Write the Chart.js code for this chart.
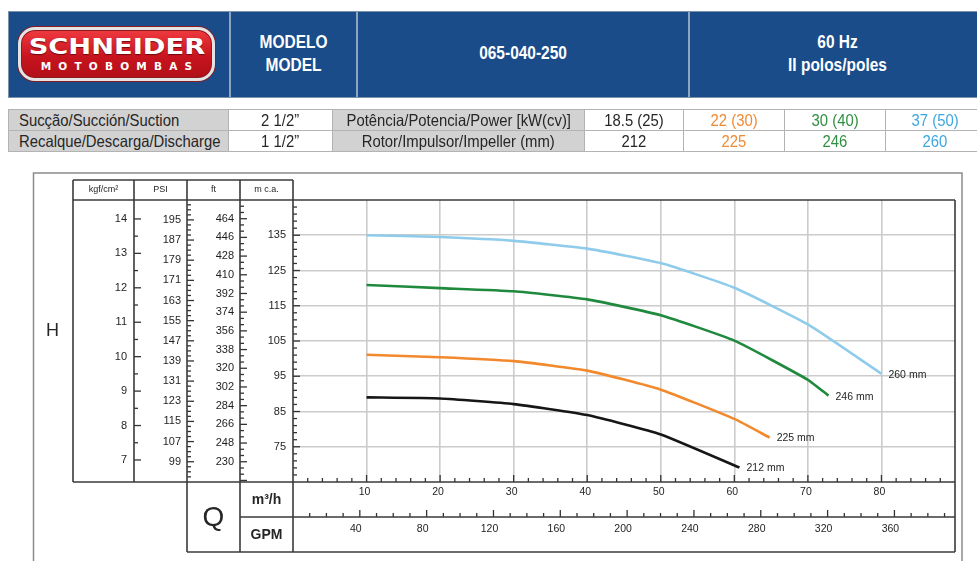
<!DOCTYPE html>
<html>
<head>
<meta charset="utf-8">
<script src="https://cdn.jsdelivr.net/npm/chart.js@4.4.1/dist/chart.umd.min.js"></script>
<style>
  html, body { margin: 0; padding: 0; background: #fff; }
  body { width: 977px; height: 561px; position: relative; overflow: hidden;
         font-family: "Liberation Sans", Arial, sans-serif; }
  #chart { position: absolute; left: 0; top: 0; }
  .abs { position: absolute; box-sizing: border-box; }
  .banner { left: 8px; top: 11px; width: 975px; height: 87px; background: #1a4c8a;
            border: 1px solid #7d91ab; }
  .vdiv { top: 12px; height: 85px; width: 2px; background: #8ea5c2; }
  .bt { color: #fff; font-weight: bold; font-size: 18px; text-align: center;
        line-height: 22px; white-space: nowrap; }
  .nar { display: inline-block; transform: scaleX(.86); transform-origin: 50% 50%; }
  .logo { left: 18px; top: 27px; width: 197px; height: 54px; border-radius: 17px;
          background: linear-gradient(#ef3a40, #c8141e 55%, #b10f18);
          border: 3px solid #e4e4e4; box-shadow: 0 0 0 1px #8c1a1f, inset 0 0 0 1px #8c1a1f; }
  .logo .t1 { position: absolute; left: 0; width: 191px; top: 5px; text-align: center;
              font-family: "DejaVu Sans", sans-serif; font-weight: bold; font-size: 21px;
              color: #fff; line-height: 24px; text-shadow: 0 1px 1px #6a0a0e; }
  .logo .t1 span { display: inline-block; transform: scaleX(1.3); }
  .logo .t2 { position: absolute; left: 0; width: 191px; top: 30px; text-align: center;
              font-family: "DejaVu Sans", sans-serif; font-weight: bold; font-size: 10.5px;
              letter-spacing: 7.2px; text-indent: 7px; color: #fff; line-height: 12px; }
  .cell { height: 21px; line-height: 21px; font-size: 16.5px; color: #262626;
          border-right: 1px solid #b3b3b3; white-space: nowrap; overflow: visible; }
  .cell span { display: inline-block; transform: scaleX(.9); }
  .grey { background: #d2d2d2; }
</style>
</head>
<body>
<canvas id="chart" width="977" height="561"></canvas>

<div class="abs banner"></div>
<div class="abs vdiv" style="left:229px"></div>
<div class="abs vdiv" style="left:356px"></div>
<div class="abs vdiv" style="left:688px"></div>
<div class="abs logo"><div class="t1"><span>SCHNEIDER</span></div><div class="t2">MOTOBOMBAS</div></div>
<div class="abs bt" style="left:231px;width:125px;top:31px"><span class="nar">MODELO</span></div>
<div class="abs bt" style="left:231px;width:125px;top:54px"><span class="nar">MODEL</span></div>
<div class="abs bt" style="left:358px;width:330px;top:42px"><span class="nar">065-040-250</span></div>
<div class="abs bt" style="left:692px;width:292px;top:31px"><span class="nar">60 Hz</span></div>
<div class="abs bt" style="left:692px;width:292px;top:54px"><span class="nar">II polos/poles</span></div>

<div id="specs"></div>

<script>
// Impeller diameters (mm) and motor power for each curve, smallest to largest
const impellerMm = [212, 225, 246, 260];
const motorPower = ['18.5 (25)', '22 (30)', '30 (40)', '37 (50)'];
const curveColors = ['#161616', '#f2892d', '#1f8a3d', '#8fcbea'];
const tableColors = ['#262626', '#f08a35', '#2f8f40', '#3ca6de'];

// Flow Q (m³/h) and head H (m c.a.) for each impeller
const flow212 = [10, 20, 30, 40, 50, 60.7];
const head212 = [89.0, 88.7, 87.1, 84.0, 78.5, 69.1];
const flow225 = [10, 20, 30, 40, 50, 60, 64.8];
const head225 = [101.1, 100.4, 99.3, 96.6, 91.2, 82.9, 77.6];
const flow246 = [10, 20, 30, 40, 50, 60, 70, 72.8];
const head246 = [120.9, 120.0, 119.1, 116.8, 112.3, 105.1, 94.0, 89.5];
const flow260 = [10, 20, 30, 40, 50, 60, 70, 80];
const head260 = [135.0, 134.5, 133.4, 131.2, 127.1, 120.1, 109.7, 95.7];

// Tick labels of each scale
const flowTicks = [10, 20, 30, 40, 50, 60, 70, 80];
const gpmTicks = [40, 80, 120, 160, 200, 240, 280, 320, 360];
const headTicks = [75, 85, 95, 105, 115, 125, 135];
const ftTicks = [230, 248, 266, 284, 302, 320, 338, 356, 374, 392, 410, 428, 446, 464];
const psiTicks = [99, 107, 115, 123, 131, 139, 147, 155, 163, 171, 179, 187, 195];
const kgfTicks = [7, 8, 9, 10, 11, 12, 13, 14];

// Spec table under the banner
const specRows = [
  ['Sucção/Succión/Suction', '2 1/2”', 'Potência/Potencia/Power [kW(cv)]', ...motorPower],
  ['Recalque/Descarga/Discharge', '1 1/2”', 'Rotor/Impulsor/Impeller (mm)', ...impellerMm.map(String)]
];

(function buildSpecs() {
  const edges = [8, 229, 333, 585, 684, 785, 886, 985];
  const host = document.getElementById('specs');
  const top0 = 110;
  specRows.forEach((row, r) => {
    row.forEach((txt, c) => {
      const d = document.createElement('div');
      d.className = 'abs cell' + (c === 0 || c === 2 ? ' grey' : '');
      d.style.left = edges[c] + 'px';
      d.style.width = (edges[c + 1] - edges[c]) + 'px';
      d.style.top = (top0 + r * 21) + 'px';
      d.style.textAlign = c === 0 ? 'left' : 'center';
      if (c === 0) d.style.paddingLeft = '11px';
      if (c >= 3) d.style.color = tableColors[c - 3];
      const s = document.createElement('span');
      s.style.transformOrigin = c === 0 ? '0 50%' : '50% 50%';
      s.textContent = txt;
      d.appendChild(s);
      host.appendChild(d);
    });
  });
  // horizontal rules of the table
  [110, 131, 152].forEach(y => {
    const l = document.createElement('div');
    l.className = 'abs';
    l.style.cssText = `left:8px;top:${y - 1}px;width:977px;height:1px;background:#b3b3b3`;
    host.appendChild(l);
  });
  const l = document.createElement('div');
  l.className = 'abs';
  l.style.cssText = 'left:8px;top:110px;width:1px;height:42px;background:#b3b3b3';
  host.appendChild(l);
})();

const M3H_TO_GPM = 4.402868;
const FONT = '"Liberation Sans", Arial, sans-serif';

const series = [
  [flow212, head212], [flow225, head225], [flow246, head246], [flow260, head260]
];

const fixedTicks = arr => scale => { scale.ticks = arr.map(v => ({ value: v })); };
const fixedWidth = w => scale => { scale.width = w; };
const fixedHeight = h => scale => { scale.height = h; };

function sideAxis(weight, min, max, labels, width, pad) {
  return {
    type: 'linear', position: 'left', weight, min, max,
    afterBuildTicks: fixedTicks(labels), afterFit: fixedWidth(width),
    grid: { drawOnChartArea: false, drawTicks: false },
    border: { display: false },
    ticks: { padding: pad, color: '#1e1e1e', font: { family: FONT, size: 11 },
             callback: v => String(v) }
  };
}

// Tick marks drawn along the column borders (minor + major)
const markSpecs = [
  { id: 'kgf', from: 7, to: 14, step: 0.5, base: 7, major: 1 },
  { id: 'psi', from: 91, to: 201, step: 2, base: 99, major: 8 },
  { id: 'ft', from: 212, to: 482, step: 6, base: 230, major: 18 },
  { id: 'y', from: 65, to: 145, step: 2, base: 75, major: 10 },
  { id: 'x', from: 2, to: 88, step: 2, base: 0, major: 10 },
  { id: 'gpm', from: 10, to: 390, step: 10, base: 0, major: 40 }
];

const framePlugin = {
  id: 'frame',
  afterDraw(chart) {
    const ctx = chart.ctx, s = chart.scales, a = chart.chartArea;
    const L = a.left, R = a.right, T = a.top, B = a.bottom;
    const c1 = s.kgf.left, c2 = s.psi.left, c3 = s.ft.left, c4 = s.y.left;
    const headTop = T - 20;
    const r1 = s.x.bottom, r2 = s.gpm.bottom;
    ctx.save();

    // outer frame
    ctx.strokeStyle = '#8c8c8c';
    ctx.lineWidth = 1.5;
    ctx.beginPath();
    ctx.moveTo(33.5, 561); ctx.lineTo(33.5, 173); ctx.lineTo(962, 173); ctx.lineTo(962, 561);
    ctx.stroke();

    // tick marks
    ctx.strokeStyle = '#333';
    ctx.lineWidth = 1.3;
    markSpecs.forEach(m => {
      const sc = s[m.id];
      const n = Math.round((m.to - m.from) / m.step);
      for (let i = 0; i <= n; i++) {
        const v = m.from + i * m.step;
        const q = (v - m.base) / m.major;
        const major = Math.abs(q - Math.round(q)) < 1e-6;
        const len = major ? 7 : 4;
        const p = sc.getPixelForValue(v);
        ctx.beginPath();
        if (sc.isHorizontal()) {
          if (p < L + 1 || p > R - 1) continue;
          ctx.moveTo(p, sc.top); ctx.lineTo(p, sc.top - len);
        } else {
          if (p < T + 1 || p > B - 1) continue;
          ctx.moveTo(sc.right, p); ctx.lineTo(sc.right + len, p);
        }
        ctx.stroke();
      }
    });

    // table frame
    ctx.strokeStyle = '#3a3a3a';
    ctx.lineWidth = 1.6;
    const seg = (x1, y1, x2, y2) => { ctx.beginPath(); ctx.moveTo(x1, y1); ctx.lineTo(x2, y2); ctx.stroke(); };
    seg(c1, headTop, L, headTop);
    seg(c1, T, R, T);
    seg(c1, headTop, c1, B);
    seg(c2, headTop, c2, B);
    seg(c3, headTop, c3, r2);
    seg(c4, headTop, c4, r2);
    seg(L, headTop, L, r2);
    seg(R, T, R, r2);
    seg(c1, B, R, B);
    seg(c4, r1, R, r1);
    seg(c3, r2, R, r2);

    // header labels
    ctx.fillStyle = '#262626';
    ctx.textAlign = 'center';
    ctx.textBaseline = 'middle';
    ctx.font = '9px ' + FONT;
    const hy = (headTop + T) / 2;
    ctx.fillText('kgf/cm²', (c1 + c2) / 2, hy);
    ctx.fillText('PSI', (c2 + c3) / 2, hy);
    ctx.fillText('ft', (c3 + c4) / 2, hy);
    ctx.fillText('m c.a.', (c4 + L) / 2, hy);

    ctx.font = '18px ' + FONT;
    ctx.fillText('H', 52.5, 331);
    ctx.font = '28px ' + FONT;
    ctx.fillText('Q', (c3 + c4) / 2, (B + r2) / 2 + 1);
    ctx.font = 'bold 14px ' + FONT;
    ctx.fillText('m³/h', (c4 + L) / 2, (B + r1) / 2 + 1);
    ctx.fillText('GPM', (c4 + L) / 2, (r1 + r2) / 2 + 1);

    // impeller labels at the end of each curve
    ctx.textAlign = 'left';
    ctx.font = '10.5px ' + FONT;
    ctx.fillStyle = '#1e1e1e';
    chart.data.datasets.forEach((ds, i) => {
      const pts = chart.getDatasetMeta(i).data;
      const last = pts[pts.length - 1];
      ctx.fillText(impellerMm[i] + ' mm', last.x + 7, last.y + 1);
    });
    ctx.restore();
  }
};

new Chart(document.getElementById('chart'), {
  type: 'line',
  data: {
    datasets: series.map(([q, h], i) => ({
      label: impellerMm[i] + ' mm',
      data: q.map((v, k) => ({ x: v, y: h[k] })),
      borderColor: curveColors[i],
      borderWidth: 2.6,
      pointRadius: 0,
      tension: 0.15,
      fill: false
    }))
  },
  options: {
    responsive: false,
    devicePixelRatio: 1,
    animation: false,
    layout: { padding: { left: 73, right: 22, top: 200, bottom: 9 } },
    plugins: { legend: { display: false }, tooltip: { enabled: false } },
    scales: {
      x: {
        type: 'linear', position: 'bottom', weight: 0, min: 0, max: 90,
        afterBuildTicks: fixedTicks(flowTicks), afterFit: fixedHeight(35),
        grid: { color: '#cbcbcb', lineWidth: 1.6, drawTicks: false },
        border: { display: false },
        ticks: { padding: 4, color: '#1e1e1e', font: { family: FONT, size: 10.5 },
                 labelOffset: -2, maxRotation: 0, callback: v => String(v) }
      },
      gpm: {
        type: 'linear', position: 'bottom', weight: 1, min: 0, max: 90 * M3H_TO_GPM,
        afterBuildTicks: fixedTicks(gpmTicks), afterFit: fixedHeight(35),
        grid: { drawOnChartArea: false, drawTicks: false },
        border: { display: false },
        ticks: { padding: 6, color: '#1e1e1e', font: { family: FONT, size: 10.5 },
                 labelOffset: -4, maxRotation: 0, callback: v => String(v) }
      },
      y: {
        type: 'linear', position: 'left', weight: 0, min: 65, max: 145,
        afterBuildTicks: fixedTicks(headTicks), afterFit: fixedWidth(53),
        grid: { color: '#cbcbcb', lineWidth: 1.6, drawTicks: false },
        border: { display: false },
        ticks: { padding: 7, color: '#1e1e1e', font: { family: FONT, size: 11 },
                 callback: v => String(v) }
      },
      ft: sideAxis(1, 210.5, 482, ftTicks, 53, 6),
      psi: sideAxis(2, 90.95, 202.9, psiTicks, 53, 6),
      kgf: sideAxis(3, 6.36, 14.55, kgfTicks, 61, 7)
    }
  },
  plugins: [framePlugin]
});
</script>
</body>
</html>
